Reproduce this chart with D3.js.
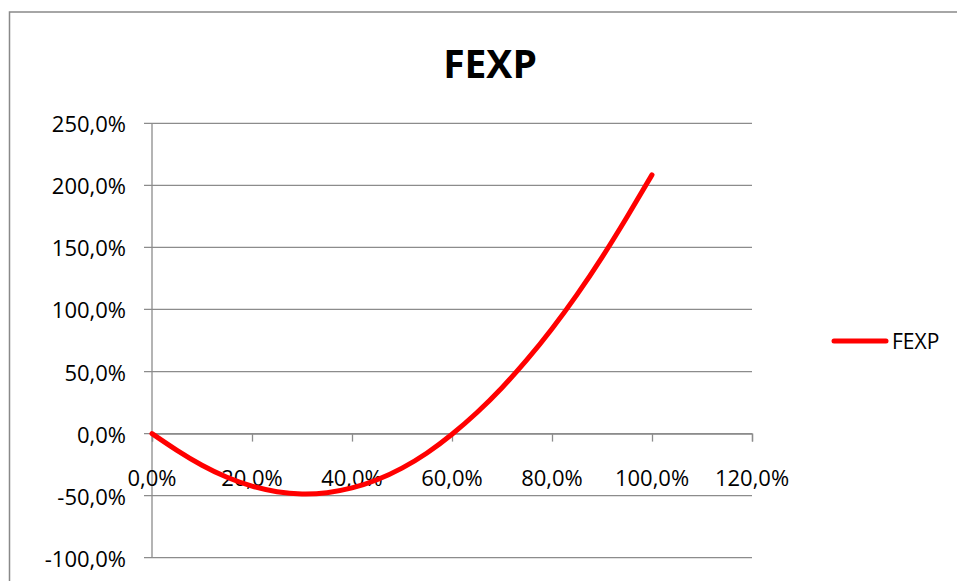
<!DOCTYPE html>
<html>
<head>
<meta charset="utf-8">
<script src="https://cdn.jsdelivr.net/npm/d3@7"></script>
<style>
  html, body { margin: 0; padding: 0; background: #fff; }
  svg { display: block; font-family: "Open Sans", sans-serif; }
</style>
</head>
<body>
<svg id="chart" width="957" height="581"></svg>
<script>
// Series: FEXP as a function of the share (x), both in fractions
const seriesName = "FEXP";
const xValues = [0, 0.05, 0.10, 0.15, 0.20, 0.25, 0.30, 0.35, 0.40, 0.45, 0.50,
                 0.55, 0.60, 0.65, 0.70, 0.75, 0.80, 0.85, 0.90, 0.95, 1.00];
const fexpValues = [0, -0.135, -0.255, -0.352, -0.423, -0.468, -0.486, -0.476, -0.438, -0.372, -0.278,
                    -0.156, -0.005, 0.170, 0.370, 0.595, 0.845, 1.120, 1.420, 1.745, 2.085];
const xTicks = [0, 0.2, 0.4, 0.6, 0.8, 1.0, 1.2];
const yTicks = [-1, -0.5, 0, 0.5, 1, 1.5, 2, 2.5];

const svg = d3.select("#chart");
const fmt = v => (v * 100).toFixed(1).replace(".", ",") + "%";

// Chart frame
svg.append("rect")
  .attr("x", 9.5).attr("y", 12).attr("width", 1000).attr("height", 700)
  .attr("fill", "#fff").attr("stroke", "#898989").attr("stroke-width", 1.5);

const x = d3.scaleLinear().domain([0, 1.2]).range([152, 752]);
const y = d3.scaleLinear().domain([-1, 2.5]).range([557.7, 123.3]);

// Horizontal gridlines
svg.append("g")
  .selectAll("line").data(yTicks).join("line")
  .attr("x1", x(0) - 8).attr("x2", x(1.2))
  .attr("y1", d => y(d)).attr("y2", d => y(d))
  .attr("stroke", "#8c8c8c").attr("stroke-width", 1.3);

// Vertical axis line
svg.append("line")
  .attr("x1", x(0)).attr("x2", x(0))
  .attr("y1", y(2.5)).attr("y2", y(-1))
  .attr("stroke", "#8c8c8c").attr("stroke-width", 1.3);

// Y tick labels
svg.append("g")
  .selectAll("text").data(yTicks).join("text")
  .attr("x", 126).attr("y", d => y(d))
  .attr("text-anchor", "end").attr("dominant-baseline", "central")
  .attr("font-size", 22).attr("fill", "#000")
  .text(fmt);

// Horizontal axis crossing at zero, with outward ticks
const xAxis = d3.axisBottom(x).tickValues(xTicks).tickSize(8).tickFormat("");
const gx = svg.append("g").attr("transform", `translate(0,${y(0)})`).call(xAxis);
gx.select(".domain").attr("stroke", "#8c8c8c").attr("stroke-width", 1.3);
gx.selectAll(".tick line").attr("stroke", "#8c8c8c").attr("stroke-width", 1.3);

// X tick labels
svg.append("g")
  .selectAll("text").data(xTicks).join("text")
  .attr("x", d => x(d)).attr("y", 477)
  .attr("text-anchor", "middle").attr("dominant-baseline", "central")
  .attr("font-size", 22).attr("fill", "#000")
  .text(fmt);

// FEXP curve (smoothed line)
const line = d3.line()
  .x((d, i) => x(xValues[i]))
  .y(d => y(d))
  .curve(d3.curveNatural);
svg.append("path")
  .datum(fexpValues)
  .attr("d", line)
  .attr("fill", "none").attr("stroke", "#ff0000")
  .attr("stroke-width", 5).attr("stroke-linecap", "round").attr("stroke-linejoin", "round");

// Title
svg.append("text")
  .attr("x", 490).attr("y", 62)
  .attr("text-anchor", "middle").attr("dominant-baseline", "central")
  .attr("font-size", 39).attr("font-weight", "bold").attr("fill", "#000")
  .text(seriesName);

// Legend
const lg = svg.append("g");
lg.append("line")
  .attr("x1", 834).attr("x2", 886).attr("y1", 341).attr("y2", 341)
  .attr("stroke", "#ff0000").attr("stroke-width", 5).attr("stroke-linecap", "round");
lg.append("text")
  .attr("x", 892).attr("y", 341)
  .attr("dominant-baseline", "central")
  .attr("font-size", 21).attr("fill", "#000")
  .text(seriesName);
</script>
</body>
</html>
